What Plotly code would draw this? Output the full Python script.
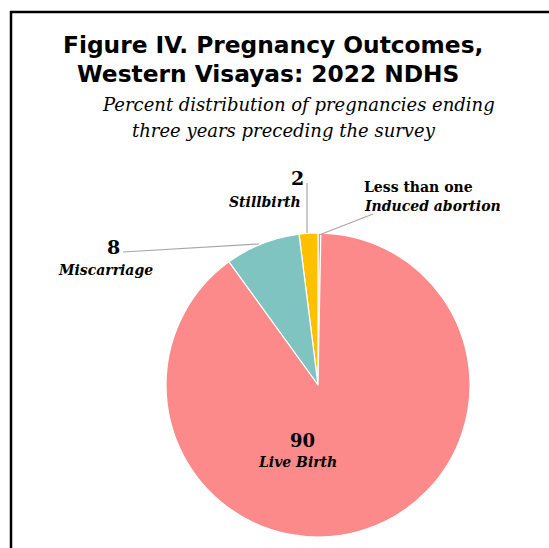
import plotly.graph_objects as go

# Pregnancy outcomes (percent), listed counter-clockwise from 12 o'clock
outcomes = ["Induced abortion", "Stillbirth", "Miscarriage", "Live Birth"]
percents = [0.3, 2, 8, 90]
slice_colors = ["#FF8A8A", "#FFC000", "#80C4C1", "#FC8A8A"]

W, H = 549, 548

def px(x):
    return x / W

def py(y):
    return 1 - y / H

SERIF = "DejaVu Serif"
SANS = "DejaVu Sans"

fig = go.Figure(
    go.Pie(
        labels=outcomes,
        values=percents,
        sort=False,
        direction="counterclockwise",
        rotation=0,
        marker=dict(colors=slice_colors, line=dict(color="white", width=1.2)),
        textinfo="none",
        hoverinfo="label+value",
        showlegend=False,
        domain=dict(x=[px(166), px(470)], y=[py(537), py(233)]),
    )
)

# Frame around the figure
fig.add_shape(type="rect", xref="paper", yref="paper",
              x0=px(11), x1=px(560), y0=py(560), y1=py(12),
              line=dict(color="black", width=2.5), fillcolor="rgba(0,0,0,0)")

# Leader lines from slice edges to their labels
leaders = [
    ((123, 252), (259, 244)),
    ((307, 183), (307, 233)),
    ((373, 214), (319, 235)),
]
for (xa, ya), (xb, yb) in leaders:
    fig.add_shape(type="line", xref="paper", yref="paper",
                  x0=px(xa), y0=py(ya), x1=px(xb), y1=py(yb),
                  line=dict(color="#A6A6A6", width=1.2))

def label(x, y, text, size, family=SERIF, xanchor="center"):
    fig.add_annotation(x=px(x), y=py(y), xref="paper", yref="paper",
                       text=text, showarrow=False, xanchor=xanchor,
                       yanchor="middle",
                       font=dict(family=family, size=size, color="black"))

# Title and subtitle
label(273, 44, "<b>Figure IV. Pregnancy Outcomes,</b>", 23.3, SANS)
label(268, 73, "<b>Western Visayas: 2022 NDHS</b>", 23.3, SANS)
label(298, 104, "<i>Percent distribution of pregnancies ending</i>", 18)
label(284, 130, "<i>three years preceding the survey</i>", 18)

# Slice labels
label(297, 178, "<b>2</b>", 19)
label(265, 202, "<b><i>Stillbirth</i></b>", 14)
label(113, 247, "<b>8</b>", 19)
label(105, 270, "<b><i>Miscarriage</i></b>", 14)
label(418, 187, "<b>Less than one</b>", 14)
label(432, 206, "<b><i>Induced abortion</i></b>", 14)
label(303, 440, "<b>90</b>", 18)
label(297, 462, "<b><i>Live Birth</i></b>", 14)

fig.update_layout(
    width=W, height=H,
    margin=dict(l=0, r=0, t=0, b=0),
    paper_bgcolor="white",
    plot_bgcolor="white",
)

fig.write_html("out.html")
